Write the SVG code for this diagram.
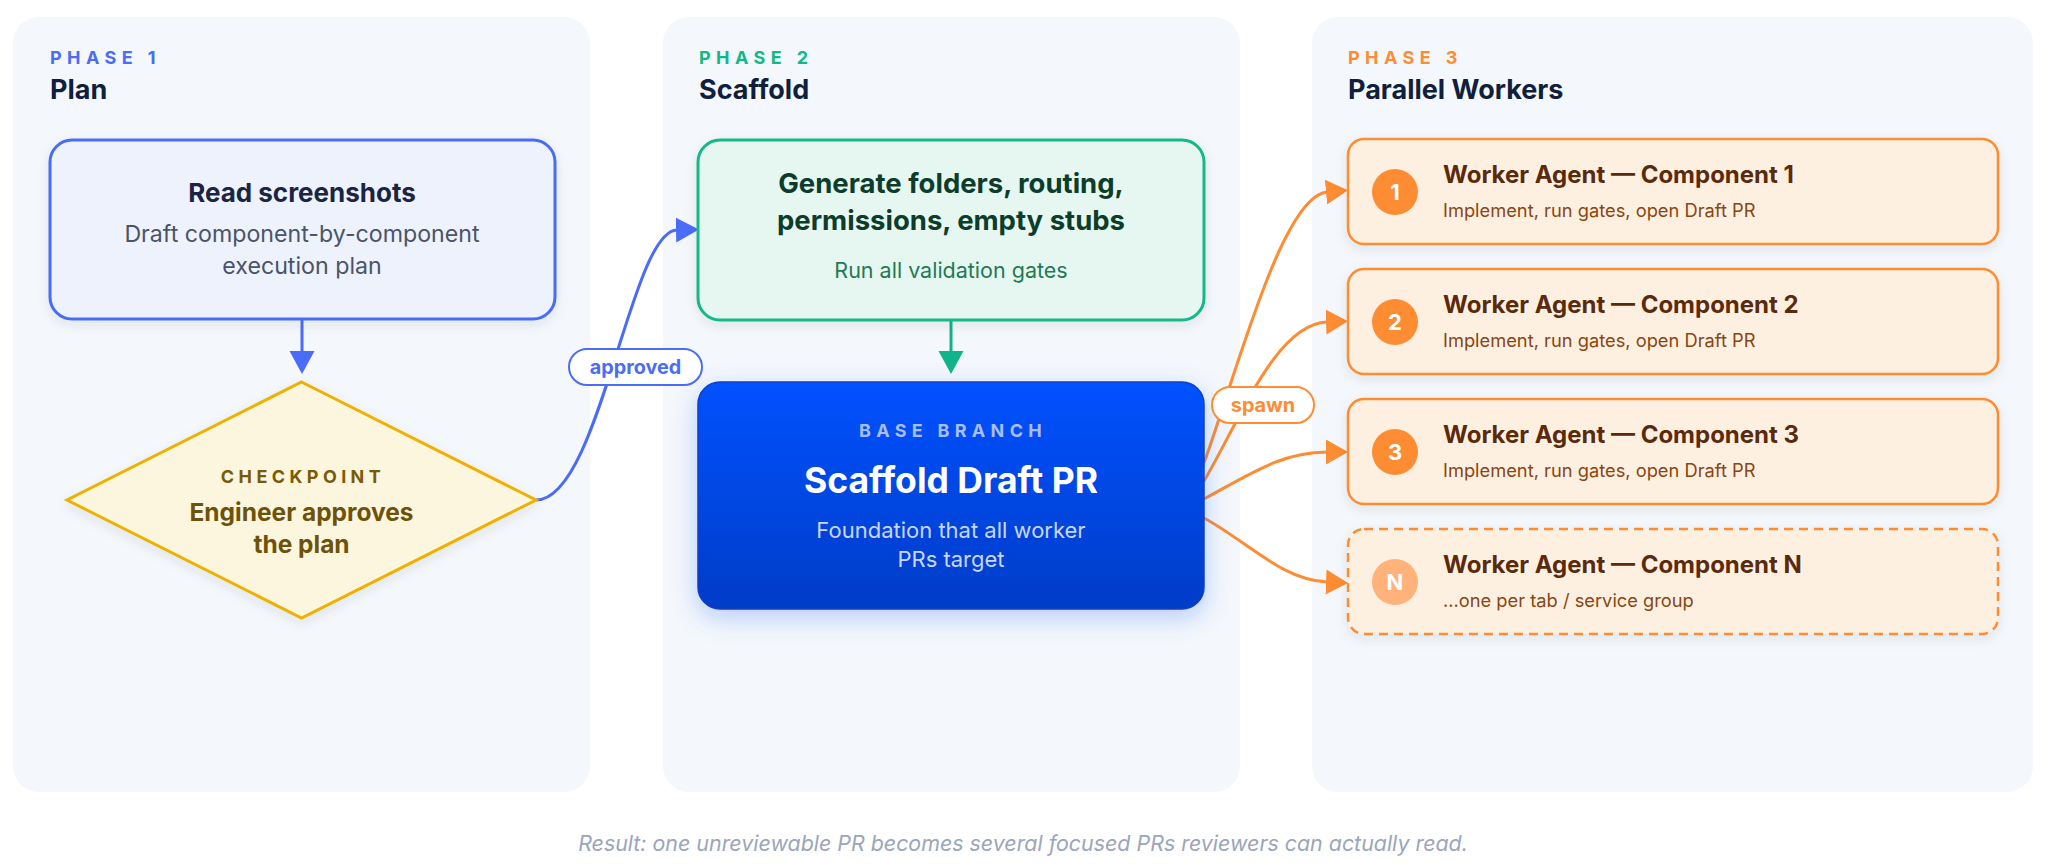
<svg xmlns="http://www.w3.org/2000/svg" width="2048" height="867" viewBox="0 0 2048 867">
<style>
  text { font-family: Inter, "Noto Sans", "Liberation Sans", sans-serif; }
  .panel { fill: #f4f7fb; }
  .phase { font-size: 18px; font-weight: 700; letter-spacing: 5.4px; }
  .ptitle { font-size: 27px; font-weight: 700; fill: #0f1f3d; }
  .wbox { fill: #fef0e0; stroke: #fd8c32; stroke-width: 2.5; }
  .wtitle { font-size: 24px; font-weight: 700; fill: #5a2a0c; }
  .wsub { font-size: 18.3px; fill: #8a4512; }
  .wnum { font-size: 22px; font-weight: 700; fill: #ffffff; text-anchor: middle; }
  .orange { fill: none; stroke: #fd8c32; stroke-width: 3; }
  .pill { font-size: 19.8px; font-weight: 700; text-anchor: middle; }
</style>
<defs>
  <filter id="sh" x="-10%" y="-15%" width="120%" height="140%">
    <feDropShadow dx="0" dy="4" stdDeviation="6" flood-color="#1e293b" flood-opacity="0.09"/>
  </filter>
  <filter id="glow" x="-15%" y="-20%" width="130%" height="150%">
    <feDropShadow dx="0" dy="8" stdDeviation="12" flood-color="#1d5bff" flood-opacity="0.28"/>
  </filter>
  <linearGradient id="blueg" x1="0" y1="0" x2="0" y2="1">
    <stop offset="0" stop-color="#0052ff"/>
    <stop offset="1" stop-color="#003cc8"/>
  </linearGradient>
  <marker id="ab" markerUnits="userSpaceOnUse" markerWidth="24" markerHeight="26" refX="1" refY="12.5" orient="auto">
    <path d="M0,0 L23,12.5 L0,25 Z" fill="#4a6cf7"/>
  </marker>
  <marker id="ag" markerUnits="userSpaceOnUse" markerWidth="24" markerHeight="26" refX="1" refY="12.5" orient="auto">
    <path d="M0,0 L23,12.5 L0,25 Z" fill="#10b48a"/>
  </marker>
  <marker id="ao" markerUnits="userSpaceOnUse" markerWidth="24" markerHeight="26" refX="1" refY="12.5" orient="auto">
    <path d="M0,0 L22,12.5 L0,25 Z" fill="#fd8c32"/>
  </marker>
</defs>

<rect width="2048" height="867" fill="#ffffff"/>

<g id="panels">
  <rect class="panel" x="13" y="17" width="577" height="775" rx="26"/>
  <rect class="panel" x="663" y="17" width="577" height="775" rx="26"/>
  <rect class="panel" x="1312" y="17" width="721" height="775" rx="26"/>
  <text class="phase" x="50" y="64" fill="#4a6cf7">PHASE 1</text>
  <text class="ptitle" x="50" y="99">Plan</text>
  <text class="phase" x="699" y="64" fill="#12b886">PHASE 2</text>
  <text class="ptitle" x="699" y="99">Scaffold</text>
  <text class="phase" x="1348" y="64" fill="#fd8c32">PHASE 3</text>
  <text class="ptitle" x="1348" y="99">Parallel Workers</text>
</g>

<g id="connectors">
  <path d="M302,320 L302,352" fill="none" stroke="#4a6cf7" stroke-width="3" marker-end="url(#ab)"/>
  <path d="M536,500 C600,500 630,231 677,230" fill="none" stroke="#4a6cf7" stroke-width="3" marker-end="url(#ab)"/>
  <path d="M951,320 L951,352" fill="none" stroke="#10b48a" stroke-width="3" marker-end="url(#ag)"/>
  <path class="orange" d="M1204,463 C1236,375 1282,196 1327,192" marker-end="url(#ao)"/>
  <path class="orange" d="M1204,481 C1240,420 1276,324 1327,322" marker-end="url(#ao)"/>
  <path class="orange" d="M1204,499 C1250,474 1282,452 1327,452" marker-end="url(#ao)"/>
  <path class="orange" d="M1204,518 C1248,542 1282,580 1327,582" marker-end="url(#ao)"/>
</g>

<g id="node-read">
  <rect x="50" y="140" width="505" height="179" rx="22" fill="#edf2fd" stroke="#4a6cf7" stroke-width="3" filter="url(#sh)"/>
  <text x="302" y="202" text-anchor="middle" font-size="26" font-weight="700" fill="#1b2541">Read screenshots</text>
  <text x="302" y="242" text-anchor="middle" font-size="23.2" fill="#4a5468">Draft component-by-component</text>
  <text x="302" y="274" text-anchor="middle" font-size="23.2" fill="#4a5468">execution plan</text>
</g>

<g id="node-checkpoint">
  <polygon points="301.5,382 536,500 301.5,618 67,500" fill="#fdf6df" stroke="#f0b000" stroke-width="3" stroke-linejoin="miter" filter="url(#sh)"/>
  <text x="303" y="483" text-anchor="middle" font-size="18" font-weight="700" letter-spacing="4.4" fill="#7a5a04">CHECKPOINT</text>
  <text x="301.5" y="521" text-anchor="middle" font-size="24.5" font-weight="700" fill="#6e5209">Engineer approves</text>
  <text x="301.5" y="553" text-anchor="middle" font-size="24.5" font-weight="700" fill="#6e5209">the plan</text>
</g>

<g id="label-approved">
  <rect x="569" y="349" width="133" height="36" rx="18" fill="#ffffff" stroke="#4a6cf7" stroke-width="2"/>
  <text class="pill" x="635.5" y="374" fill="#4a6cf7">approved</text>
</g>

<g id="node-generate">
  <rect x="698" y="140" width="506" height="180" rx="22" fill="#e6f6f0" stroke="#12b886" stroke-width="3" filter="url(#sh)"/>
  <text x="951" y="193" text-anchor="middle" font-size="27.5" font-weight="700" fill="#0b3d2a">Generate folders, routing,</text>
  <text x="951" y="230" text-anchor="middle" font-size="27.5" font-weight="700" fill="#0b3d2a">permissions, empty stubs</text>
  <text x="951" y="278" text-anchor="middle" font-size="21.5" fill="#1f7a55">Run all validation gates</text>
</g>

<g id="node-scaffold-pr">
  <rect x="698" y="382" width="506" height="227" rx="22" fill="url(#blueg)" stroke="#0b3fc4" stroke-width="1.5" filter="url(#glow)"/>
  <text x="953" y="437" text-anchor="middle" font-size="18" font-weight="700" letter-spacing="5.3" fill="#a9bef6">BASE BRANCH</text>
  <text x="951" y="493" text-anchor="middle" font-size="35.5" font-weight="700" fill="#ffffff">Scaffold Draft PR</text>
  <text x="951" y="538" text-anchor="middle" font-size="22" fill="#c9d7ff">Foundation that all worker</text>
  <text x="951" y="567" text-anchor="middle" font-size="22" fill="#c9d7ff">PRs target</text>
</g>

<g id="label-spawn">
  <rect x="1212" y="387" width="102" height="36" rx="18" fill="#ffffff" stroke="#fd8c32" stroke-width="2"/>
  <text class="pill" x="1263" y="412" fill="#fd8c32">spawn</text>
</g>

<g id="worker-1">
  <rect class="wbox" x="1348" y="139" width="650" height="105" rx="16" filter="url(#sh)"/>
  <circle cx="1395" cy="192" r="23" fill="#fd8c32"/>
  <text class="wnum" x="1395" y="200">1</text>
  <text class="wtitle" x="1443" y="183">Worker Agent — Component 1</text>
  <text class="wsub" x="1443" y="217">Implement, run gates, open Draft PR</text>
</g>

<g id="worker-2">
  <rect class="wbox" x="1348" y="269" width="650" height="105" rx="16" filter="url(#sh)"/>
  <circle cx="1395" cy="322" r="23" fill="#fd8c32"/>
  <text class="wnum" x="1395" y="330">2</text>
  <text class="wtitle" x="1443" y="313">Worker Agent — Component 2</text>
  <text class="wsub" x="1443" y="347">Implement, run gates, open Draft PR</text>
</g>

<g id="worker-3">
  <rect class="wbox" x="1348" y="399" width="650" height="105" rx="16" filter="url(#sh)"/>
  <circle cx="1395" cy="452" r="23" fill="#fd8c32"/>
  <text class="wnum" x="1395" y="460">3</text>
  <text class="wtitle" x="1443" y="443">Worker Agent — Component 3</text>
  <text class="wsub" x="1443" y="477">Implement, run gates, open Draft PR</text>
</g>

<g id="worker-n">
  <rect class="wbox" x="1348" y="529" width="650" height="105" rx="16" stroke-dasharray="9 6" filter="url(#sh)"/>
  <circle cx="1395" cy="582" r="23" fill="#ffb27a"/>
  <text class="wnum" x="1395" y="590">N</text>
  <text class="wtitle" x="1443" y="573">Worker Agent — Component N</text>
  <text class="wsub" x="1443" y="607">...one per tab / service group</text>
</g>

<g id="footer">
  <text x="1023" y="851" text-anchor="middle" font-size="21.4" font-style="italic" fill="#9aa6ba">Result: one unreviewable PR becomes several focused PRs reviewers can actually read.</text>
</g>
</svg>
